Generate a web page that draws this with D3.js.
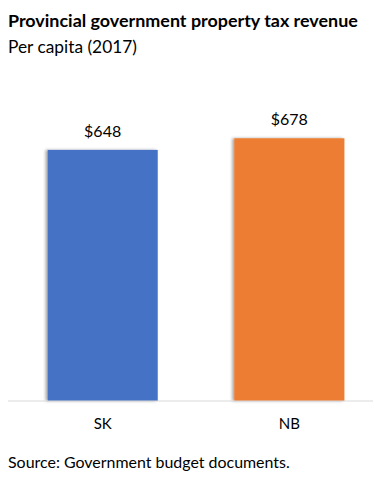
<!DOCTYPE html>
<html>
<head>
<meta charset="utf-8">
<script src="https://cdn.jsdelivr.net/npm/d3@7"></script>
<style>
  body { margin: 0; background: #fff; }
  text { font-family: Lato, 'Open Sans', sans-serif; fill: #000; }
</style>
</head>
<body>
<svg id="chart" width="374" height="484"></svg>
<script>
var categories = ['SK', 'NB']
var values = [648, 678]
var barColors = ['#4472C4', '#ED7D31']
var valueLabels = ['$648', '$678']

var width = 374
var height = 484

var svg = d3.select('#chart')

// subtle excel-ish shadow
var defs = svg.append('defs')
defs.append('filter')
  .attr('id', 'shadow')
  .attr('x', '-10%').attr('y', '-10%').attr('width', '120%').attr('height', '120%')
  .append('feDropShadow')
  .attr('dx', -2).attr('dy', 0).attr('stdDeviation', 1.5)
  .attr('flood-color', '#000').attr('flood-opacity', 0.35)

var x = d3.scaleBand()
  .domain(categories)
  .range([14, 378])
  .paddingInner(0.41)
  .paddingOuter(0.18)

var y = d3.scaleLinear()
  .domain([0, 800])
  .range([401, 91])

// fit text to a target width
var fitText = function (sel, target) {
  var len = sel.node().getComputedTextLength()
  var fs = parseFloat(sel.attr('font-size'))
  sel.attr('font-size', fs * target / len)
}

var title = svg.append('text')
  .attr('x', 8).attr('y', 27)
  .attr('font-size', 16)
  .attr('font-weight', 'bold')
  .text('Provincial government property tax revenue')
fitText(title, 350)

var sub = svg.append('text')
  .attr('x', 8).attr('y', 53)
  .attr('font-size', 16)
  .text('Per capita (2017)')
fitText(sub, 129)

svg.append('g')
  .selectAll('rect')
  .data(values)
  .join('rect')
  .attr('x', (d, i) => x(categories[i]))
  .attr('y', (d) => y(d))
  .attr('width', x.bandwidth())
  .attr('height', (d) => y(0) - y(d))
  .attr('fill', (d, i) => barColors[i])
  .attr('filter', 'url(#shadow)')

// baseline
svg.append('line')
  .attr('x1', 8).attr('x2', 373)
  .attr('y1', y(0)).attr('y2', y(0))
  .attr('stroke', '#d9d9d9')
  .attr('stroke-width', 1)

svg.append('g')
  .selectAll('text')
  .data(values)
  .join('text')
  .attr('x', (d, i) => x(categories[i]) + x.bandwidth() / 2)
  .attr('y', (d) => y(d) - 13)
  .attr('text-anchor', 'middle')
  .attr('font-size', 16)
  .text((d, i) => valueLabels[i])

svg.append('g')
  .selectAll('text')
  .data(categories)
  .join('text')
  .attr('x', (d) => x(d) + x.bandwidth() / 2)
  .attr('y', 429)
  .attr('text-anchor', 'middle')
  .attr('font-size', 15)
  .text((d) => d)

var source = svg.append('text')
  .attr('x', 8).attr('y', 468)
  .attr('font-size', 15)
  .text('Source: Government budget documents.')
fitText(source, 282)
</script>
</body>
</html>
